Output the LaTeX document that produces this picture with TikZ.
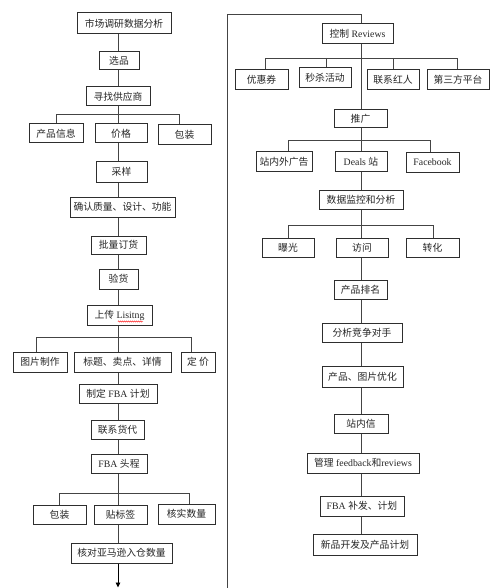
\documentclass[tikz,border=0pt]{standalone}
\usepackage{fontspec}
\setmainfont{Liberation Serif}
\newfontfamily\cjk{Noto Sans CJK SC}
\usetikzlibrary{arrows.meta,decorations.pathmorphing}
\newcommand\zh[1]{{\cjk #1}}
\definecolor{bordercol}{HTML}{2E2E2E}
\definecolor{linecol}{HTML}{444444}
\newcommand\mybox[6]{%
  \node[box, minimum width={(#4-#2)*1pt}, minimum height={(#5-#3)*1pt}]
    (#1) at ({(#2+#4)/2},{(#3+#5)/2}) {#6};}
\begin{document}
\begin{tikzpicture}[x=1pt,y=-1pt,
  box/.style={draw=bordercol, line width=1pt, fill=white, inner sep=0pt,
    font=\fontsize{9.8}{11}\selectfont, text=black!85},
  ln/.style={draw=linecol, line width=0.9pt}]
\useasboundingbox (0,0) rectangle (500,588);
% ---------- left column ----------
\mybox{sc}{77}{13}{171}{34}{\zh{市场调研数据分析}}
\mybox{xp}{99}{52}{139}{70}{\zh{选品}}
\mybox{xz}{86}{87}{150}{106}{\zh{寻找供应商}}
\mybox{cpxx}{29}{124}{83}{143}{\zh{产品信息}}
\mybox{jg}{95}{124}{147}{143}{\zh{价格}}
\mybox{bz}{158}{125}{211}{145}{\zh{包装}}
\mybox{cy}{96}{162}{147}{182}{\zh{采样}}
\mybox{qr}{70}{197}{175}{217}{\zh{确认质量、设计、功能}}
\mybox{pl}{91}{236}{146}{254}{\zh{批量订货}}
\mybox{yh}{99}{269}{138}{289}{\zh{验货}}
\mybox{sc2}{87}{305}{152}{325}{\zh{上传} Lisitng}
\mybox{tp}{13}{352}{67}{372}{\zh{图片制作}}
\mybox{bt}{74}{352}{171}{372}{\zh{标题、卖点、详情}}
\mybox{dj}{181}{352}{215}{372}{\zh{定 价}}
\mybox{zd}{79}{384}{157}{403}{\zh{制定} FBA \zh{计划}}
\mybox{lx}{91}{420}{144}{439}{\zh{联系货代}}
\mybox{tc}{91}{454}{147}{473}{FBA \zh{头程}}
\mybox{bz2}{33}{505}{86}{524}{\zh{包装}}
\mybox{tb}{94}{505}{147}{524}{\zh{贴标签}}
\mybox{hs}{158}{504}{215}{524}{\zh{核实数量}}
\mybox{hd}{71}{543}{172}{563}{\zh{核对亚马逊入仓数量}}
% spell-check underline
\draw[red, line width=0.4pt, decorate, decoration={snake, amplitude=0.6pt, segment length=2pt}]
  (118,321.5) -- (143,321.5);
% left trunk
\coordinate (L) at (118,0);
\draw[ln] (sc.south -| L) -- (xp.north -| L);
\draw[ln] (xp.south -| L) -- (xz.north -| L);
\draw[ln] (xz.south -| L) -- (jg.north -| L);
\draw[ln] (jg.south -| L) -- (cy.north -| L);
\draw[ln] (cy.south -| L) -- (qr.north -| L);
\draw[ln] (qr.south -| L) -- (pl.north -| L);
\draw[ln] (pl.south -| L) -- (yh.north -| L);
\draw[ln] (yh.south -| L) -- (sc2.north -| L);
\draw[ln] (sc2.south -| L) -- (bt.north -| L);
\draw[ln] (bt.south -| L) -- (zd.north -| L);
\draw[ln] (zd.south -| L) -- (lx.north -| L);
\draw[ln] (lx.south -| L) -- (tc.north -| L);
\draw[ln] (tc.south -| L) -- (tb.north -| L);
\draw[ln] (tb.south -| L) -- (hd.north -| L);
\coordinate (Lend) at (118,587.5);
\draw[ln, -{Triangle[length=5pt,width=4.5pt]}, black] (hd.south -| L) -- (Lend);
% left branches
\coordinate (a1) at (56,114);  \coordinate (a2) at (179,114);
\draw[ln] (cpxx.north -| a1) -- (a1) -- (a2) -- (bz.north -| a2);
\coordinate (b1) at (36,337);  \coordinate (b2) at (191,337);
\draw[ln] (tp.north -| b1) -- (b1) -- (b2) -- (dj.north -| b2);
\coordinate (c1) at (59,493);  \coordinate (c2) at (189,493);
\draw[ln] (bz2.north -| c1) -- (c1) -- (c2) -- (hs.north -| c2);
% ---------- right column ----------
\mybox{kz}{322}{24}{393}{44}{\zh{控制} Reviews}
\mybox{yhq}{235}{70}{288}{90}{\zh{优惠券}}
\mybox{ms}{299}{68}{351}{88}{\zh{秒杀活动}}
\mybox{hr}{367}{70}{419}{90}{\zh{联系红人}}
\mybox{ds}{427}{70}{489}{90}{\zh{第三方平台}}
\mybox{tg}{334}{110}{387}{128}{\zh{推广}}
\mybox{zn}{256}{152}{312}{171}{\zh{站内外广告}}
\mybox{dl}{335}{152}{387}{171}{Deals \zh{站}}
\mybox{fb}{406}{153}{459}{172}{Facebook}
\mybox{sj}{319}{190}{403}{209}{\zh{数据监控和分析}}
\mybox{bg}{262}{238}{314}{257}{\zh{曝光}}
\mybox{fw}{336}{238}{388}{257}{\zh{访问}}
\mybox{zh}{406}{238}{459}{257}{\zh{转化}}
\mybox{pm}{334}{280}{387}{299}{\zh{产品排名}}
\mybox{fx}{322}{323}{402}{342}{\zh{分析竞争对手}}
\mybox{yy}{322}{366}{403}{387}{\zh{产品、图片优化}}
\mybox{zx}{334}{414}{388}{433}{\zh{站内信}}
\mybox{gl}{307}{453}{419}{473}{\zh{管理} feedback\zh{和}reviews}
\mybox{bf}{320}{496}{404}{516}{FBA \zh{补发、计划}}
\mybox{xk}{313}{534}{417}{555}{\zh{新品开发及产品计划}}
% link from left bottom up to top of right column
\coordinate (R) at (361,0);
\coordinate (rb) at (227,588);
\coordinate (rt) at (227,14);
\draw[ln] (rb) -- (rt) -| (kz.north -| R);
% right trunk
\draw[ln] (kz.south -| R) -- (tg.north -| R);
\draw[ln] (tg.south -| R) -- (dl.north -| R);
\draw[ln] (dl.south -| R) -- (sj.north -| R);
\draw[ln] (sj.south -| R) -- (fw.north -| R);
\draw[ln] (fw.south -| R) -- (pm.north -| R);
\draw[ln] (pm.south -| R) -- (fx.north -| R);
\draw[ln] (fx.south -| R) -- (yy.north -| R);
\draw[ln] (yy.south -| R) -- (zx.north -| R);
\draw[ln] (zx.south -| R) -- (gl.north -| R);
\draw[ln] (gl.south -| R) -- (bf.north -| R);
\draw[ln] (bf.south -| R) -- (xk.north -| R);
% right branches
\coordinate (e1) at (265,58); \coordinate (e2) at (326,58);
\coordinate (e3) at (393,58); \coordinate (e4) at (457,58);
\draw[ln] (yhq.north -| e1) -- (e1) -- (e4) -- (ds.north -| e4);
\draw[ln] (e2) -- (ms.north -| e2);
\draw[ln] (e3) -- (hr.north -| e3);
\coordinate (f1) at (288,140); \coordinate (f2) at (430,140);
\draw[ln] (zn.north -| f1) -- (f1) -- (f2) -- (fb.north -| f2);
\coordinate (g1) at (288,225); \coordinate (g2) at (433,225);
\draw[ln] (bg.north -| g1) -- (g1) -- (g2) -- (zh.north -| g2);
\end{tikzpicture}
\end{document}
